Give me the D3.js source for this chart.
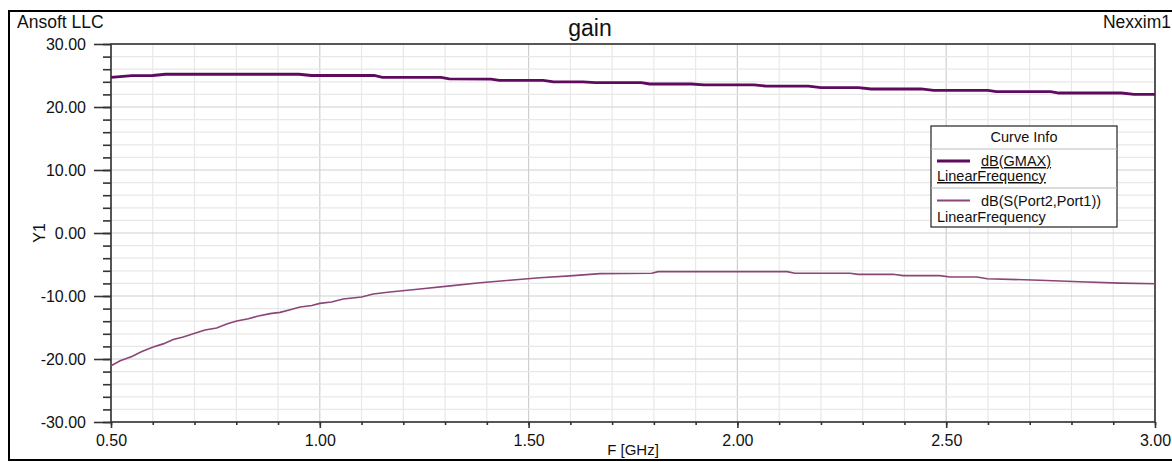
<!DOCTYPE html>
<html>
<head>
<meta charset="utf-8">
<script src="https://cdn.jsdelivr.net/npm/d3@7"></script>
<style>
  body { margin: 0; background: #fff; }
  svg { display: block; font-family: "Liberation Sans", Arial, sans-serif; }
</style>
</head>
<body>
<svg id="chart" width="1172" height="462"></svg>
<script>
// dati
const gmaxFreq = [0.50, 0.55, 0.60, 0.63, 0.95, 0.98, 1.13, 1.15, 1.29, 1.31, 1.41, 1.43, 1.535, 1.56, 1.63, 1.66, 1.77, 1.79, 1.89, 1.92, 2.04, 2.07, 2.17, 2.20, 2.29, 2.32, 2.44, 2.47, 2.60, 2.62, 2.75, 2.77, 2.92, 2.95, 3.00];
const gmaxDb = [24.7, 24.97, 25.0, 25.2, 25.2, 25.0, 25.0, 24.7, 24.7, 24.45, 24.44, 24.23, 24.23, 24.0, 24.0, 23.86, 23.86, 23.65, 23.65, 23.5, 23.5, 23.3, 23.3, 23.07, 23.07, 22.86, 22.86, 22.65, 22.65, 22.43, 22.43, 22.22, 22.22, 22.0, 22.0];

const s21Freq = [0.500, 0.522, 0.550, 0.574, 0.601, 0.625, 0.649, 0.673, 0.697, 0.725, 0.753, 0.777, 0.801, 0.829, 0.853, 0.881, 0.905, 0.929, 0.953, 0.981, 1.000, 1.028, 1.056, 1.100, 1.128, 1.168, 1.240, 1.312, 1.384, 1.455, 1.527, 1.599, 1.671, 1.795, 1.810, 2.119, 2.138, 2.270, 2.289, 2.373, 2.397, 2.485, 2.509, 2.574, 2.598, 2.725, 2.820, 2.916, 3.000];
const s21Db = [-21.06, -20.27, -19.6, -18.8, -18.1, -17.6, -16.9, -16.5, -15.98, -15.4, -15.08, -14.44, -13.97, -13.6, -13.17, -12.8, -12.6, -12.17, -11.75, -11.5, -11.17, -10.95, -10.48, -10.16, -9.68, -9.37, -8.9, -8.4, -7.9, -7.5, -7.1, -6.8, -6.45, -6.4, -6.13, -6.13, -6.4, -6.4, -6.56, -6.56, -6.77, -6.77, -6.98, -6.98, -7.25, -7.5, -7.75, -7.95, -8.05];

const xTicks = [0.5, 1.0, 1.5, 2.0, 2.5, 3.0];
const yTicks = [-30, -20, -10, 0, 10, 20, 30];
const seriesNames = ["dB(GMAX)", "dB(S(Port2,Port1))"];
const seriesColors = ["#5e0b5e", "#8a4676"];

const svg = d3.select("#chart");
const mLeft = 111, mRight = 1155, mTop = 44, mBottom = 422;

const x = d3.scaleLinear().domain([0.5, 3.0]).range([mLeft, mRight]);
const y = d3.scaleLinear().domain([-30, 30]).range([mBottom, mTop]);

// cornice esterna
svg.append("rect")
  .attr("x", 9).attr("y", 11)
  .attr("width", 1172).attr("height", 449)
  .attr("fill", "none").attr("stroke", "#000").attr("stroke-width", 2);

// testi in alto
svg.append("text").attr("x", 17).attr("y", 28)
  .attr("font-size", 17.5).attr("fill", "#111").text("Ansoft LLC");
svg.append("text").attr("x", 1171).attr("y", 28)
  .attr("text-anchor", "end").attr("font-size", 17.5).attr("fill", "#111").text("Nexxim1");
svg.append("text").attr("x", 590).attr("y", 36)
  .attr("text-anchor", "middle").attr("font-size", 23).attr("fill", "#111").text("gain");

// griglia minore e maggiore
const xMinor = d3.range(0.5, 3.0001, 0.1);
const yMinor = d3.range(-30, 30.001, 2);

const grid = svg.append("g");
grid.selectAll(".gx").data(xMinor).enter().append("line")
  .attr("x1", d => x(d)).attr("x2", d => x(d))
  .attr("y1", mTop).attr("y2", mBottom)
  .attr("stroke", d => xTicks.some(t => Math.abs(t - d) < 1e-6) ? "#cfcfcf" : "#e8e8e8")
  .attr("stroke-width", 1.2);
grid.selectAll(".gy").data(yMinor).enter().append("line")
  .attr("x1", mLeft).attr("x2", mRight)
  .attr("y1", d => y(d)).attr("y2", d => y(d))
  .attr("stroke", d => yTicks.some(t => Math.abs(t - d) < 1e-6) ? "#cfcfcf" : "#e8e8e8")
  .attr("stroke-width", 1.2);

// assi
const axisColor = "#333";
const fmt = d => d.toFixed(2); // trattino normale come nell'originale
const yAxisMinor = d3.axisLeft(y).tickValues(yMinor).tickSize(8).tickFormat("");
const yAxisMajor = d3.axisLeft(y).tickValues(yTicks).tickSize(17).tickPadding(8).tickFormat(fmt);
const xAxisMinor = d3.axisBottom(x).tickValues(xMinor).tickSize(3).tickFormat("");
const xAxisMajor = d3.axisBottom(x).tickValues(xTicks).tickSize(6).tickPadding(7).tickFormat(fmt);

function styleAxis(g) {
  g.select(".domain").remove();
  g.selectAll("line").attr("stroke", axisColor).attr("stroke-width", 1.6);
  g.selectAll("text").attr("fill", "#111").attr("font-size", 16)
    .attr("font-family", "Liberation Sans, Arial, sans-serif");
}

svg.append("g").attr("transform", `translate(${mLeft},0)`).call(yAxisMinor).call(styleAxis);
svg.append("g").attr("transform", `translate(${mLeft},0)`).call(yAxisMajor).call(styleAxis);
svg.append("g").attr("transform", `translate(0,${mBottom})`).call(xAxisMinor).call(styleAxis);
svg.append("g").attr("transform", `translate(0,${mBottom})`).call(xAxisMajor).call(styleAxis);

// bordo area del grafico
svg.append("rect")
  .attr("x", mLeft).attr("y", mTop)
  .attr("width", mRight - mLeft).attr("height", mBottom - mTop)
  .attr("fill", "none").attr("stroke", axisColor).attr("stroke-width", 1.6);

// titoli assi
svg.append("text").attr("x", (mLeft + mRight) / 2).attr("y", 455)
  .attr("text-anchor", "middle").attr("font-size", 15).attr("fill", "#111").text("F [GHz]");
svg.append("text")
  .attr("transform", `translate(45,${y(0)}) rotate(-90)`)
  .attr("text-anchor", "middle").attr("font-size", 16).attr("fill", "#111").text("Y1");

// curve
const line = d3.line().x(d => x(d[0])).y(d => y(d[1]));
const gmaxData = gmaxFreq.map((f, i) => [f, gmaxDb[i]]);
const s21Data = s21Freq.map((f, i) => [f, s21Db[i]]);

svg.append("path").datum(s21Data)
  .attr("d", line).attr("fill", "none")
  .attr("stroke", seriesColors[1]).attr("stroke-width", 1.6);
svg.append("path").datum(gmaxData)
  .attr("d", line).attr("fill", "none")
  .attr("stroke", seriesColors[0]).attr("stroke-width", 2.8);

// legenda
const lg = svg.append("g");
const lx0 = 931, lx1 = 1117;
lg.append("rect").attr("x", lx0).attr("y", 126).attr("width", lx1 - lx0).attr("height", 101)
  .attr("fill", "#fff").attr("stroke", "#222").attr("stroke-width", 1.2);
lg.append("text").attr("x", (lx0 + lx1) / 2).attr("y", 142)
  .attr("text-anchor", "middle").attr("font-size", 14.5).attr("fill", "#111").text("Curve Info");
[149, 188].forEach(yy => {
  lg.append("line").attr("x1", lx0).attr("x2", lx1).attr("y1", yy).attr("y2", yy)
    .attr("stroke", "#bbb").attr("stroke-width", 1);
});

const rows = [
  { name: seriesNames[0], color: seriesColors[0], w: 2.8, ly: 161, ty: 166, fy: 181, under: true },
  { name: seriesNames[1], color: seriesColors[1], w: 2.2, ly: 200.5, ty: 206, fy: 221.5, under: false }
];
rows.forEach(r => {
  lg.append("line").attr("x1", 937).attr("x2", 970).attr("y1", r.ly).attr("y2", r.ly)
    .attr("stroke", r.color).attr("stroke-width", r.w);
  lg.append("text").attr("x", 981).attr("y", r.ty).attr("font-size", 14.5).attr("fill", "#111")
    .attr("text-decoration", r.under ? "underline" : null).text(r.name);
  lg.append("text").attr("x", 937).attr("y", r.fy).attr("font-size", 14.5).attr("fill", "#111")
    .attr("text-decoration", r.under ? "underline" : null).text("LinearFrequency");
});
</script>
</body>
</html>
